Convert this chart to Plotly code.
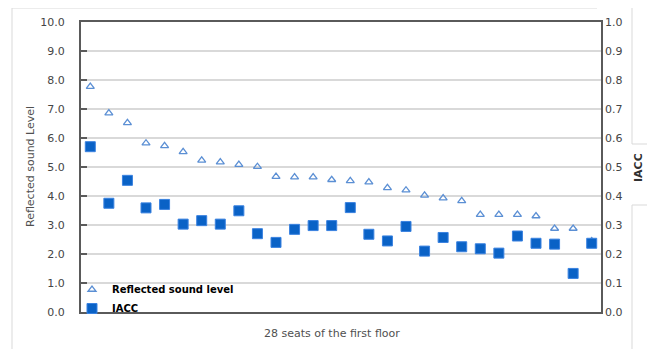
import plotly.graph_objects as go

seats = list(range(1, 29))
reflected = [7.77, 6.86, 6.52, 5.82, 5.73, 5.52, 5.23, 5.17, 5.08, 5.01,
             4.67, 4.65, 4.65, 4.56, 4.52, 4.48, 4.28, 4.20, 4.02, 3.93,
             3.83, 3.36, 3.36, 3.36, 3.31, 2.88, 2.88, 2.45]
iacc = [0.570, 0.375, 0.454, 0.359, 0.371, 0.303, 0.315, 0.303, 0.349, 0.270,
        0.240, 0.285, 0.298, 0.298, 0.360, 0.268, 0.245, 0.295, 0.210, 0.257,
        0.225, 0.218, 0.203, 0.262, 0.237, 0.234, 0.133, 0.237]
left_ticks = [i * 1.0 for i in range(11)]
right_ticks = [i / 10 for i in range(11)]

# page body has an 8px margin; layout is offset to compensate
OFF = 8
W, H = 655, 349
L, R, T, B = 81 - OFF, 62, 22 - OFF, 45
PW, PH = W - L - R, H - T - B

def px(x):  # screen x -> paper
    return (x - OFF - L) / PW

def py(y):  # screen y -> paper
    return (H - B - (y - OFF)) / PH

fig = go.Figure()
fig.add_trace(go.Scatter(
    x=seats, y=reflected, mode="markers", name="Reflected sound level",
    marker=dict(symbol="triangle-up-open", size=7, color="#5b8fd4",
                line=dict(width=1.3, color="#5b8fd4")),
    yaxis="y"))
fig.add_trace(go.Scatter(
    x=seats, y=iacc, mode="markers", name="IACC",
    marker=dict(symbol="square", size=10, color="#0a62c6",
                line=dict(width=1, color="#3a82e0")),
    yaxis="y2"))

tickfont = dict(family="DejaVu Sans", size=11, color="#454545")

fig.update_layout(
    width=W, height=H,
    margin=dict(l=L, r=R, t=T, b=B, pad=0, autoexpand=False),
    paper_bgcolor="white", plot_bgcolor="white",
    showlegend=True,
    legend=dict(x=px(72), y=py(323), xanchor="left", yanchor="bottom",
                bgcolor="rgba(0,0,0,0)", itemwidth=30,
                font=dict(family="DejaVu Sans", size=10, color="#000000",
                          weight="bold"),
                tracegroupgap=0, borderwidth=0),
    xaxis=dict(range=[0.5, 28.5], showticklabels=False, showgrid=False,
               zeroline=False, showline=True, mirror=True, automargin=False,
               linecolor="#5a5a5a", linewidth=2, ticks=""),
    yaxis=dict(range=[0, 10], tickvals=left_ticks,
               ticktext=[f"{v:.1f}" for v in left_ticks],
               showgrid=True, gridcolor="#d9d9d9", gridwidth=1.5,
               zeroline=False, showline=True, mirror=True, automargin=False,
               linecolor="#5a5a5a", linewidth=2,
               ticks="inside", ticklen=6, tickwidth=1.5, tickcolor="#5a5a5a",
               tickfont=tickfont, ticklabelstandoff=12),
    yaxis2=dict(range=[0, 1], tickvals=right_ticks,
                ticktext=[f"{v:.1f}" for v in right_ticks],
                overlaying="y", side="right", showgrid=False, zeroline=False,
                showline=False, ticks="", tickfont=tickfont, automargin=False,
                ticklabelstandoff=3),
)

ann = dict(xref="paper", yref="paper", showarrow=False,
           xanchor="center", yanchor="middle")
fig.add_annotation(text="Reflected sound Level", x=px(30), y=py(167),
                   textangle=-90,
                   font=dict(family="DejaVu Sans", size=11, color="#505050"),
                   **ann)
fig.add_annotation(text="<b>IACC</b>", x=px(638), y=py(168), textangle=-90,
                   font=dict(family="DejaVu Sans", size=11, color="#303030"),
                   **ann)
fig.add_annotation(text="28 seats of the first floor", x=px(332), y=py(333),
                   font=dict(family="DejaVu Sans", size=11, color="#505050"),
                   **ann)

frame = ("M {a},{b} L {a},{c} L {d},{c} L {d},{e} L {f},{e} L {f},{g} "
         "L {j},{g} L {j},{k} L {f},{k} L {f},{b}").format(
    a=px(12), b=py(349), c=py(8), d=px(597), e=py(5), f=px(632), g=py(144),
    j=px(650), k=py(205))
fig.add_shape(type="path", path=frame, xref="paper", yref="paper",
              line=dict(color="#d9d9d9", width=1), layer="below")

fig.write_html("out.html")
